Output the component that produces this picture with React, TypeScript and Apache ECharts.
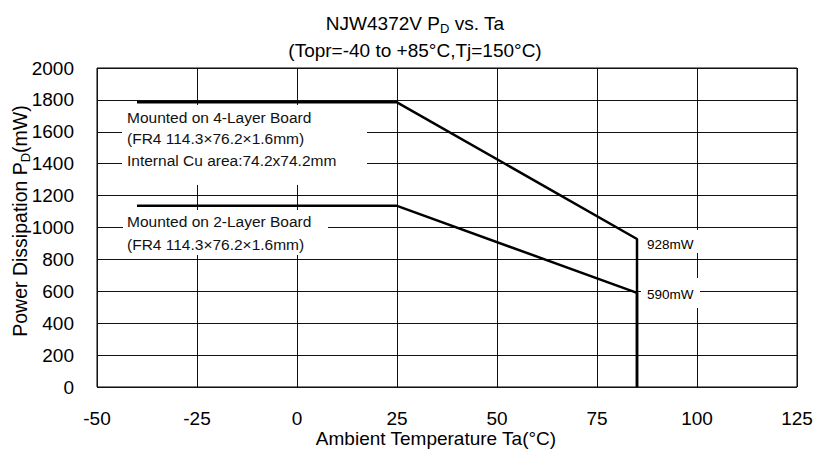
import { useEffect, useRef } from "react";
import * as echarts from "echarts";

const xTicks = [-50, -25, 0, 25, 50, 75, 100, 125];
const yTicks = [0, 200, 400, 600, 800, 1000, 1200, 1400, 1600, 1800, 2000];
const tempFour = [-40, 25, 85, 85];
const pdFour = [1785, 1785, 928, 0];
const tempTwo = [-40, 25, 85, 85];
const pdTwo = [1136, 1136, 590, 0];
const noteFour = ["Mounted on 4-Layer Board", "(FR4 114.3×76.2×1.6mm)", "Internal Cu area:74.2x74.2mm"];
const noteTwo = ["Mounted on 2-Layer Board", "(FR4 114.3×76.2×1.6mm)"];
const endLabels = ["928mW", "590mW"];

const FONT = "'Liberation Sans', Arial, sans-serif";

export default function App() {
  const ref = useRef<HTMLDivElement>(null);
  useEffect(() => {
    if (!ref.current) return;
    const chart = echarts.init(ref.current, null, { renderer: "svg" });
    const baseText = { fill: "#000", fontFamily: FONT };
    const noteText = (t: string, x: number, y: number) => ({
      type: "text",
      x,
      y,
      z: 5,
      style: { ...baseText, fill: "#111", text: t, fontSize: 15.5, align: "left", verticalAlign: "middle" },
    });
    const box = (x: number, y: number, w: number, h: number) => ({
      type: "rect",
      z: 1,
      shape: { x, y, width: w, height: h },
      style: { fill: "#fff", stroke: null },
    });
    chart.setOption({
      animation: false,
      backgroundColor: "#fff",
      grid: { left: 97, right: 20, top: 68, bottom: 65, show: true, borderColor: "#000", borderWidth: 1, backgroundColor: "transparent" },
      xAxis: {
        type: "value",
        min: xTicks[0],
        max: xTicks[xTicks.length - 1],
        interval: 25,
        axisLine: { show: false },
        axisTick: { show: false },
        axisLabel: { fontSize: 19, color: "#000", margin: 22, fontFamily: FONT, lineHeight: 19, formatter: (v: number) => String(v) },
        splitLine: { show: true, lineStyle: { color: "#111", width: 1 } },
      },
      yAxis: {
        type: "value",
        min: yTicks[0],
        max: yTicks[yTicks.length - 1],
        interval: 200,
        axisLine: { show: false },
        axisTick: { show: false },
        axisLabel: { fontSize: 19, color: "#000", margin: 23, fontFamily: FONT, formatter: (v: number) => String(v) },
        splitLine: { show: true, lineStyle: { color: "#111", width: 1 } },
      },
      series: [
        {
          type: "line",
          data: tempFour.map((t, i) => [t, pdFour[i]]),
          symbol: "none",
          z: 3,
          lineStyle: { color: "#000", width: 2.5 },
        },
        {
          type: "line",
          data: tempTwo.map((t, i) => [t, pdTwo[i]]),
          symbol: "none",
          z: 3,
          lineStyle: { color: "#000", width: 2.5 },
        },
      ],
      graphic: [
        box(122, 105, 245, 80),
        box(123, 210, 205, 45),
        box(641, 230, 58, 23),
        box(641, 278, 59, 30),
        noteText(noteFour[0], 127, 117),
        noteText(noteFour[1], 127, 138.5),
        noteText(noteFour[2], 127, 160),
        noteText(noteTwo[0], 127, 221),
        noteText(noteTwo[1], 127, 244),
        {
          type: "text", x: 647, y: 244, z: 5,
          style: { ...baseText, text: endLabels[0], fontSize: 13.5, align: "left", verticalAlign: "middle" },
        },
        {
          type: "text", x: 647, y: 294, z: 5,
          style: { ...baseText, text: endLabels[1], fontSize: 13.5, align: "left", verticalAlign: "middle" },
        },
        {
          type: "text", x: 415, y: 23, z: 5,
          style: {
            ...baseText,
            text: "{a|NJW4372V P}{s|D}{a| vs. Ta}",
            align: "center",
            verticalAlign: "middle",
            rich: {
              a: { fontSize: 19, lineHeight: 24, fill: "#000", fontFamily: FONT },
              s: { fontSize: 13, lineHeight: 14, verticalAlign: "bottom", fill: "#000", fontFamily: FONT },
            },
          },
        },
        {
          type: "text", x: 415, y: 50, z: 5,
          style: { ...baseText, text: "(Topr=-40 to +85°C,Tj=150°C)", fontSize: 19, align: "center", verticalAlign: "middle" },
        },
        {
          type: "text", x: 436, y: 438, z: 5,
          style: { ...baseText, text: "Ambient Temperature Ta(°C)", fontSize: 19, align: "center", verticalAlign: "middle" },
        },
        {
          type: "text", x: 19.5, y: 221, z: 5, rotation: Math.PI / 2,
          style: {
            ...baseText,
            text: "{a|Power Dissipation P}{s|D}{a|(mW)}",
            align: "center",
            verticalAlign: "middle",
            rich: {
              a: { fontSize: 19.5, lineHeight: 24, fill: "#000", fontFamily: FONT },
              s: { fontSize: 13, lineHeight: 14, verticalAlign: "bottom", fill: "#000", fontFamily: FONT },
            },
          },
        },
      ],
    });
    return () => chart.dispose();
  }, []);
  return <div ref={ref} style={{ position: "absolute", left: 0, top: 0, width: 817, height: 452 }} />;
}
